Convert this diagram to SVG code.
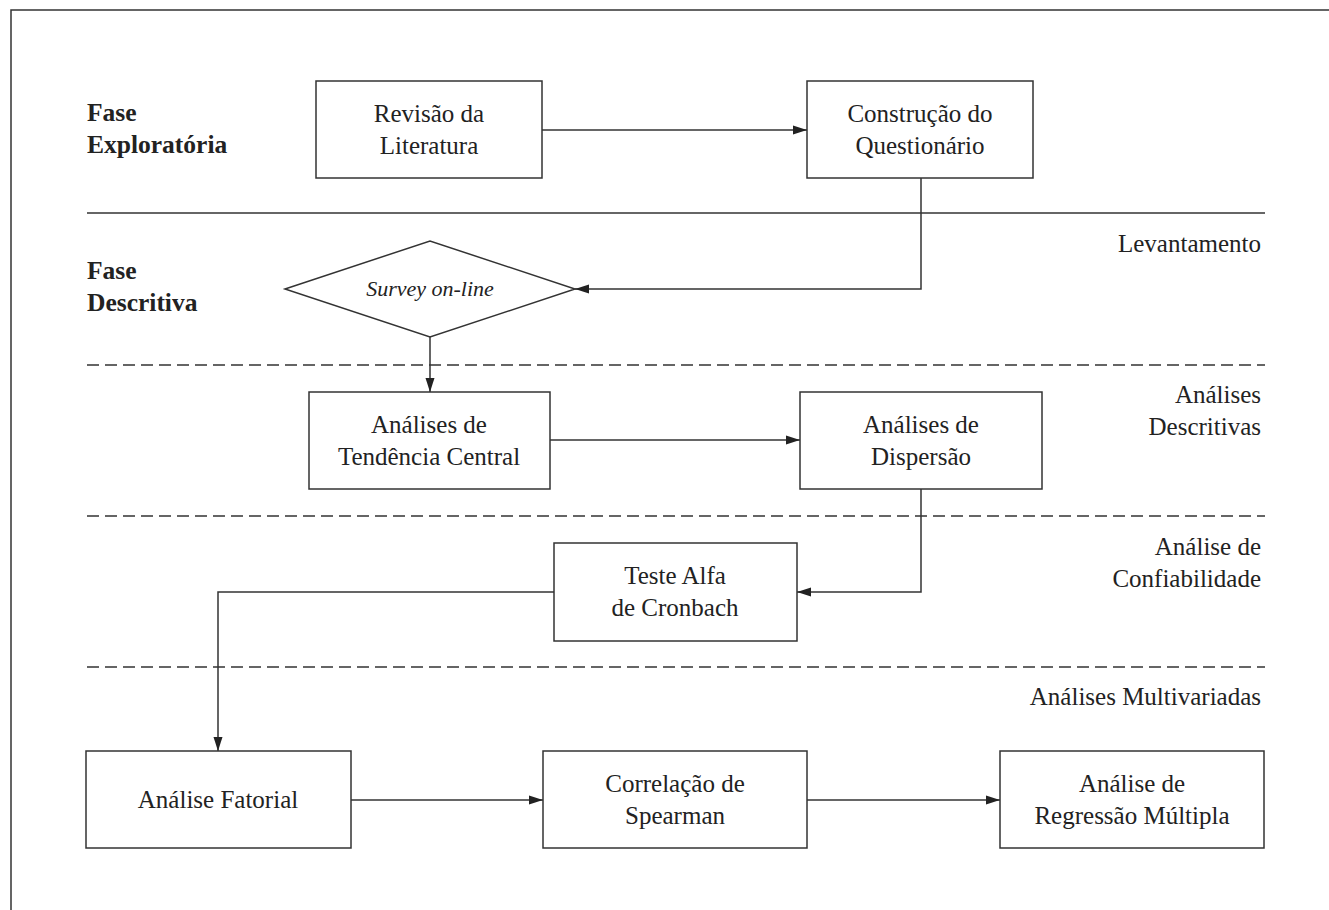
<svg xmlns="http://www.w3.org/2000/svg" width="1329" height="910" viewBox="0 0 1329 910">
<style>
.box{fill:#fff;stroke:#333;stroke-width:1.5}
.t{font-family:"Liberation Serif","Times New Roman",serif;font-size:25px;fill:#222;text-anchor:middle}
.lbl{font-family:"Liberation Serif","Times New Roman",serif;font-size:25px;fill:#222;text-anchor:end}
.ph{font-family:"Liberation Serif","Times New Roman",serif;font-size:25.5px;font-weight:bold;fill:#222}
.sep{stroke:#333;stroke-width:1.5;fill:none}
.dash{stroke:#333;stroke-width:1.5;fill:none;stroke-dasharray:12 6}
.c{stroke:#333;stroke-width:1.5;fill:none;marker-end:url(#ah)}
</style>
<defs>
<marker id="ah" markerWidth="15" markerHeight="10" refX="14" refY="5" orient="auto" markerUnits="userSpaceOnUse">
<path d="M0,0.5 L14,5 L0,9.5 Z" fill="#222"/>
</marker>
</defs>
<rect x="0" y="0" width="1329" height="910" fill="#fff"/>
<path d="M11,920 L11,10 L1340,10" class="sep" stroke="#555"/>

<g id="separators">
<line x1="87" y1="213" x2="1265" y2="213" class="sep"/>
<line x1="87" y1="365" x2="1265" y2="365" class="dash"/>
<line x1="87" y1="516" x2="1265" y2="516" class="dash"/>
<line x1="87" y1="667" x2="1265" y2="667" class="dash"/>
</g>

<g id="phase-labels">
<text class="ph" x="87" y="121">Fase</text>
<text class="ph" x="87" y="153">Exploratória</text>
<text class="ph" x="87" y="279">Fase</text>
<text class="ph" x="87" y="311">Descritiva</text>
<text class="lbl" x="1261" y="252">Levantamento</text>
<text class="lbl" x="1261" y="403">Análises</text>
<text class="lbl" x="1261" y="435">Descritivas</text>
<text class="lbl" x="1261" y="555">Análise de</text>
<text class="lbl" x="1261" y="587">Confiabilidade</text>
<text class="lbl" x="1261" y="705">Análises Multivariadas</text>
</g>

<g id="connectors">
<line x1="542" y1="130" x2="807" y2="130" class="c"/>
<path d="M921,178 L921,289 L575,289" class="c"/>
<line x1="430" y1="337" x2="430" y2="392" class="c"/>
<line x1="550" y1="440" x2="800" y2="440" class="c"/>
<path d="M921,489 L921,592 L797,592" class="c"/>
<path d="M554,592 L218,592 L218,751" class="c"/>
<line x1="351" y1="800" x2="543" y2="800" class="c"/>
<line x1="807" y1="800" x2="1000" y2="800" class="c"/>
</g>

<g id="revisao">
<rect class="box" x="316" y="81" width="226" height="97"/>
<text class="t" x="429" y="122">Revisão da</text>
<text class="t" x="429" y="154">Literatura</text>
</g>
<g id="construcao">
<rect class="box" x="807" y="81" width="226" height="97"/>
<text class="t" x="920" y="122">Construção do</text>
<text class="t" x="920" y="154">Questionário</text>
</g>
<g id="survey">
<polygon class="box" points="285,289 430,241 575,289 430,337"/>
<text class="t" x="430" y="296" font-style="italic" style="font-size:22px">Survey on-line</text>
</g>
<g id="tendencia">
<rect class="box" x="309" y="392" width="241" height="97"/>
<text class="t" x="429" y="433">Análises de</text>
<text class="t" x="429" y="465">Tendência Central</text>
</g>
<g id="dispersao">
<rect class="box" x="800" y="392" width="242" height="97"/>
<text class="t" x="921" y="433">Análises de</text>
<text class="t" x="921" y="465">Dispersão</text>
</g>
<g id="alfa">
<rect class="box" x="554" y="543" width="243" height="98"/>
<text class="t" x="675" y="584">Teste Alfa</text>
<text class="t" x="675" y="616">de Cronbach</text>
</g>
<g id="fatorial">
<rect class="box" x="86" y="751" width="265" height="97"/>
<text class="t" x="218" y="808">Análise Fatorial</text>
</g>
<g id="spearman">
<rect class="box" x="543" y="751" width="264" height="97"/>
<text class="t" x="675" y="792">Correlação de</text>
<text class="t" x="675" y="824">Spearman</text>
</g>
<g id="regressao">
<rect class="box" x="1000" y="751" width="264" height="97"/>
<text class="t" x="1132" y="792">Análise de</text>
<text class="t" x="1132" y="824">Regressão Múltipla</text>
</g>
</svg>
